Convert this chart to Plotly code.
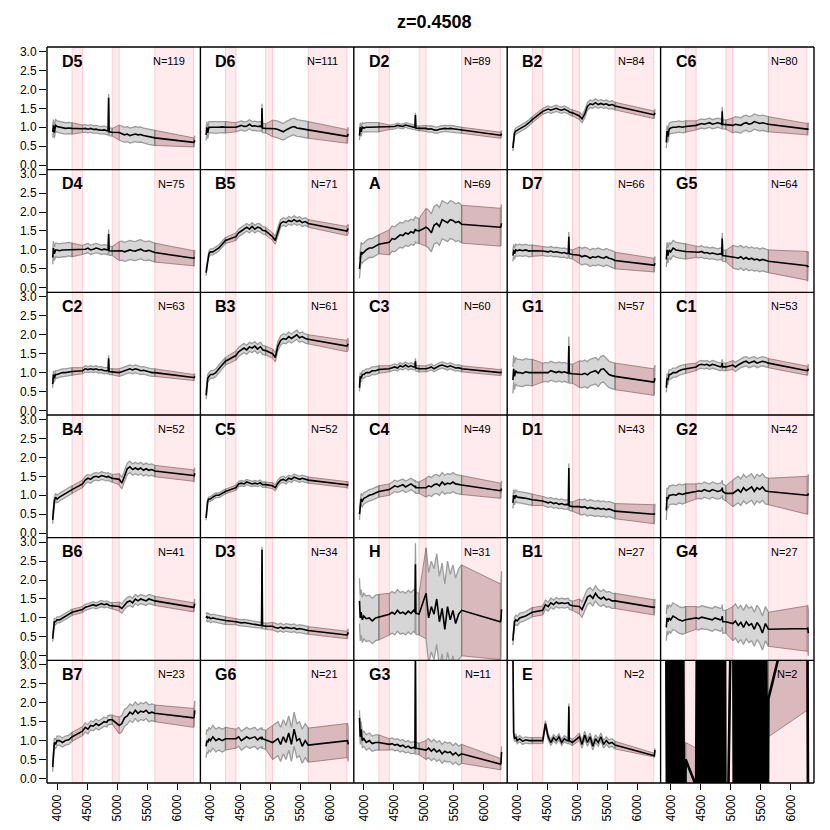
import plotly.graph_objects as go
from plotly.subplots import make_subplots

# ---------------- data ----------------
WL_A = [3927, 3940, 3955, 3975, 4000, 4040, 4090, 4140, 4195, 4250]
WL_B = [4425, 4470, 4515, 4560, 4605, 4650, 4695, 4740, 4785, 4830, 4852, 4860, 4868, 4920]
WL_C = [5037, 5080, 5125, 5170, 5215, 5260, 5305, 5350, 5395, 5440, 5485, 5530, 5580, 5630]
WL_D = [6275, 6286, 6296]

WL30_A = [3927, 3950, 3973, 3996, 4019, 4042, 4065, 4088, 4111, 4134, 4157, 4180, 4203, 4226, 4250]
WL30_B = [4425, 4450, 4475, 4500, 4525, 4550, 4575, 4600, 4625, 4650, 4675, 4700, 4725, 4750,
          4775, 4800, 4825, 4850, 4875, 4900, 4920]
WL30_C = [5037, 5062, 5087, 5112, 5137, 5162, 5187, 5212, 5237, 5262, 5287, 5312, 5337, 5362,
          5387, 5412, 5437, 5462, 5487, 5512, 5537, 5562, 5587, 5612, 5630]

mask_bands = [(4250, 4425), (4920, 5037), (5630, 6275)]

labels = ["D5", "D6", "D2", "B2", "C6", "D4", "B5", "A", "D7", "G5",
          "C2", "B3", "C3", "G1", "C1", "B4", "C5", "C4", "D1", "G2",
          "B6", "D3", "H", "B1", "G4", "B7", "G6", "G3", "E", ""]
counts = [119, 111, 89, 84, 80, 75, 71, 69, 66, 64, 63, 61, 60, 57, 53, 52, 52, 49, 43, 42,
          41, 34, 31, 27, 27, 23, 21, 11, 2, 2]

m_D5 = [0.88, 1.05, 0.86, 1.05, 1.02, 1.0, 0.98, 0.97, 0.98, 0.97,
        0.96, 0.97, 0.95, 0.97, 0.94, 0.95, 0.93, 0.92, 0.93, 0.9, 0.9, 1.78, 0.88, 0.87,
        0.86, 0.83, 0.8, 0.82, 0.78, 0.8, 0.82, 0.8, 0.81, 0.78, 0.77, 0.75, 0.73, 0.72,
        0.6, 0.61, 0.66]
s_D5 = [0.15, 0.1, 0.2, 0.12]
m_D6 = [0.8, 1.0, 0.85, 1.0, 1.0, 1.0, 0.99, 1.0, 1.01, 1.0,
        1.0, 1.02, 1.05, 1.02, 1.03, 1.08, 1.03, 1.04, 1.02, 1.03, 1.0, 1.5, 0.98, 0.97,
        0.97, 0.96, 0.94, 0.91, 0.88, 0.93, 0.97, 1.0, 1.02, 0.98, 0.97, 0.96, 0.95, 0.93,
        0.76, 0.77, 0.82]
s_D6 = [0.15, 0.12, 0.22, 0.18]
m_D2 = [0.78, 1.0, 0.88, 1.0, 0.98, 1.0, 1.0, 1.0, 1.0, 1.0,
        1.0, 1.0, 1.02, 1.05, 1.03, 1.02, 1.06, 1.03, 1.02, 1.0, 1.0, 1.32, 0.98, 0.97,
        0.97, 0.95, 0.96, 0.93, 0.92, 0.95, 0.96, 0.97, 0.96, 0.97, 0.96, 0.95, 0.93, 0.92,
        0.79, 0.8, 0.83]
s_D2 = [0.12, 0.06, 0.08, 0.08]
m_B2 = [0.45, 0.6, 0.85, 0.9, 0.92, 0.95, 1.0, 1.05, 1.12, 1.2,
        1.42, 1.45, 1.48, 1.45, 1.47, 1.5, 1.47, 1.45, 1.48, 1.45, 1.43, 1.42, 1.4, 1.38,
        1.3, 1.22, 1.35, 1.55, 1.62, 1.6, 1.65, 1.6, 1.63, 1.6, 1.62, 1.58, 1.6, 1.56,
        1.33, 1.34, 1.38]
s_B2 = [0.08, 0.08, 0.1, 0.1]
m_C6 = [0.6, 0.9, 0.75, 0.95, 0.98, 1.0, 1.0, 1.02, 1.0, 1.02,
        1.05, 1.08, 1.1, 1.08, 1.1, 1.12, 1.08, 1.1, 1.12, 1.1, 1.08, 1.42, 1.08, 1.07,
        1.05, 1.08, 1.07, 1.05, 1.1, 1.12, 1.08, 1.1, 1.15, 1.12, 1.1, 1.12, 1.1, 1.08,
        0.95, 0.95, 0.97]
s_C6 = [0.15, 0.12, 0.2, 0.15]
m_D4 = [0.8, 1.05, 0.9, 1.0, 1.0, 0.98, 1.0, 1.0, 1.02, 1.0,
        1.0, 1.02, 1.05, 1.0, 1.02, 1.05, 1.03, 1.0, 1.02, 1.0, 1.0, 1.42, 0.98, 0.97,
        0.97, 0.98, 0.95, 0.97, 1.0, 0.98, 0.97, 1.0, 1.02, 0.98, 0.97, 0.99, 0.96, 0.93,
        0.78, 0.78, 0.8]
s_D4 = [0.18, 0.12, 0.25, 0.2]
m_B5 = [0.4, 0.55, 0.8, 0.9, 0.95, 0.95, 1.0, 1.05, 1.15, 1.25,
        1.35, 1.45, 1.5, 1.55, 1.6, 1.55, 1.62, 1.55, 1.6, 1.58, 1.55, 1.55, 1.52, 1.5,
        1.35, 1.25, 1.5, 1.7, 1.75, 1.72, 1.78, 1.75, 1.8, 1.75, 1.78, 1.72, 1.75, 1.7,
        1.5, 1.52, 1.56]
s_B5 = [0.08, 0.1, 0.1, 0.12]
m_A = [0.5, 0.75, 0.95, 0.9, 0.95, 1.0, 1.05, 1.05, 1.1, 1.15,
       1.2, 1.3, 1.28, 1.35, 1.4, 1.38, 1.45, 1.42, 1.48, 1.45, 1.5, 1.55, 1.52, 1.5,
       1.6, 1.55, 1.45, 1.65, 1.7, 1.62, 1.8, 1.75, 1.72, 1.8, 1.78, 1.72, 1.75, 1.68,
       1.6, 1.62, 1.7]
s_A = [0.25, 0.33, 0.5, 0.5]
m_D7 = [0.85, 1.0, 0.9, 1.0, 0.98, 1.0, 0.98, 1.0, 0.97, 0.98,
        0.97, 0.96, 0.95, 0.97, 0.94, 0.95, 0.93, 0.92, 0.93, 0.9, 0.92, 1.35, 0.9, 0.88,
        0.86, 0.82, 0.85, 0.83, 0.78, 0.82, 0.8, 0.83, 0.8, 0.78, 0.82, 0.78, 0.76, 0.72,
        0.6, 0.6, 0.65]
s_D7 = [0.15, 0.12, 0.22, 0.18]
m_G5 = [0.75, 1.0, 0.85, 1.0, 0.95, 1.05, 1.0, 0.98, 0.97, 0.96,
        0.95, 0.94, 0.96, 0.92, 0.93, 0.9, 0.92, 0.9, 0.88, 0.9, 0.88, 1.3, 0.85, 0.84,
        0.82, 0.8, 0.78, 0.82, 0.76, 0.8, 0.75, 0.78, 0.74, 0.76, 0.72, 0.75, 0.73, 0.7,
        0.58, 0.55, 0.58]
s_G5 = [0.2, 0.15, 0.3, 0.38]
m_C2 = [0.7, 0.95, 0.85, 0.95, 0.95, 0.98, 1.0, 1.0, 1.02, 1.03,
        1.05, 1.1, 1.08, 1.1, 1.08, 1.1, 1.07, 1.08, 1.05, 1.06, 1.05, 1.38, 1.03, 1.02,
        1.0, 1.02, 1.05, 1.08, 1.1, 1.07, 1.1, 1.08, 1.05, 1.06, 1.03, 1.02, 1.0, 1.0,
        0.87, 0.87, 0.9]
s_C2 = [0.1, 0.08, 0.1, 0.08]
m_B3 = [0.4, 0.55, 0.85, 0.9, 0.95, 0.95, 1.0, 1.1, 1.2, 1.3,
        1.45, 1.55, 1.6, 1.65, 1.6, 1.68, 1.65, 1.7, 1.62, 1.68, 1.65, 1.62, 1.6, 1.58,
        1.5, 1.4, 1.7, 1.85, 1.9, 1.88, 1.95, 1.9, 1.95, 2.0, 1.92, 1.95, 1.9, 1.88,
        1.7, 1.72, 1.76]
s_B3 = [0.1, 0.12, 0.12, 0.15]
m_C3 = [0.6, 0.9, 0.85, 0.95, 0.95, 1.0, 1.0, 1.05, 1.05, 1.08,
        1.1, 1.12, 1.15, 1.12, 1.18, 1.15, 1.2, 1.15, 1.18, 1.15, 1.15, 1.3, 1.12, 1.1,
        1.1, 1.12, 1.15, 1.1, 1.15, 1.18, 1.2, 1.17, 1.15, 1.18, 1.15, 1.12, 1.13, 1.1,
        1.0, 1.0, 1.02]
s_C3 = [0.1, 0.08, 0.08, 0.08]
m_G1 = [0.8, 1.1, 0.9, 1.05, 1.0, 1.0, 0.98, 1.02, 1.0, 1.0,
        1.0, 1.02, 1.0, 1.05, 1.02, 1.0, 1.03, 1.0, 1.02, 1.0, 0.98, 1.7, 0.98, 0.97,
        0.96, 0.95, 0.98, 0.94, 1.0, 1.02, 1.05, 0.98, 1.08, 1.1, 1.02, 0.95, 0.92, 0.9,
        0.75, 0.78, 0.85]
s_G1 = [0.35, 0.25, 0.35, 0.35]
m_C1 = [0.6, 0.85, 0.8, 0.95, 0.95, 1.0, 1.0, 1.05, 1.08, 1.1,
        1.15, 1.2, 1.22, 1.2, 1.22, 1.18, 1.22, 1.2, 1.18, 1.15, 1.18, 1.25, 1.15, 1.15,
        1.2, 1.15, 1.2, 1.25, 1.28, 1.3, 1.25, 1.28, 1.3, 1.25, 1.28, 1.3, 1.28, 1.25,
        1.05, 1.06, 1.1]
s_C1 = [0.12, 0.1, 0.12, 0.12]
m_B4 = [0.35, 0.6, 0.85, 0.95, 0.9, 0.95, 1.0, 1.05, 1.1, 1.15,
        1.3, 1.4, 1.45, 1.42, 1.48, 1.5, 1.48, 1.52, 1.5, 1.48, 1.5, 1.5, 1.48, 1.45,
        1.42, 1.32, 1.5, 1.7, 1.75, 1.68, 1.72, 1.68, 1.72, 1.66, 1.7, 1.66, 1.68, 1.64,
        1.52, 1.5, 1.58]
s_B4 = [0.1, 0.1, 0.15, 0.15]
m_C5 = [0.4, 0.6, 0.85, 0.9, 0.9, 0.95, 1.0, 1.0, 1.05, 1.1,
        1.2, 1.3, 1.32, 1.3, 1.35, 1.32, 1.3, 1.32, 1.3, 1.33, 1.3, 1.3, 1.28, 1.28,
        1.25, 1.2, 1.32, 1.4, 1.42, 1.38, 1.45, 1.42, 1.48, 1.45, 1.42, 1.45, 1.42, 1.4,
        1.28, 1.27, 1.29]
s_C5 = [0.06, 0.07, 0.08, 0.08]
m_C4 = [0.5, 0.8, 0.9, 0.85, 0.92, 0.95, 1.0, 1.02, 1.05, 1.1,
        1.15, 1.2, 1.25, 1.22, 1.25, 1.28, 1.22, 1.25, 1.3, 1.25, 1.22, 1.25, 1.2, 1.2,
        1.2, 1.25, 1.22, 1.28, 1.3, 1.25, 1.35, 1.28, 1.32, 1.3, 1.35, 1.3, 1.28, 1.27,
        1.12, 1.13, 1.18]
s_C4 = [0.15, 0.15, 0.25, 0.2]
m_D1 = [0.8, 1.0, 0.9, 1.0, 0.95, 0.95, 0.93, 0.92, 0.9, 0.88,
        0.85, 0.82, 0.8, 0.82, 0.78, 0.8, 0.76, 0.78, 0.75, 0.76, 0.74, 1.72, 0.72, 0.7,
        0.7, 0.68, 0.7, 0.65, 0.68, 0.66, 0.64, 0.66, 0.63, 0.65, 0.62, 0.64, 0.6, 0.58,
        0.5, 0.5, 0.52]
s_D1 = [0.15, 0.12, 0.2, 0.25]
m_G2 = [0.6, 0.95, 0.9, 1.0, 1.0, 1.02, 1.0, 1.05, 1.02, 1.05,
        1.1, 1.12, 1.1, 1.15, 1.12, 1.1, 1.15, 1.12, 1.1, 1.12, 1.15, 1.2, 1.1, 1.05,
        1.05, 1.1, 1.15, 1.08, 1.2, 1.12, 1.18, 1.22, 1.1, 1.2, 1.15, 1.22, 1.12, 1.1,
        1.0, 1.0, 1.05]
s_G2 = [0.25, 0.2, 0.35, 0.5]
m_B6 = [0.45, 0.7, 0.9, 0.9, 0.95, 0.95, 1.0, 1.05, 1.1, 1.15,
        1.22, 1.28, 1.3, 1.33, 1.35, 1.32, 1.35, 1.38, 1.35, 1.37, 1.35, 1.35, 1.33, 1.32,
        1.3, 1.25, 1.35, 1.42, 1.45, 1.4, 1.5, 1.45, 1.5, 1.48, 1.45, 1.5, 1.48, 1.45,
        1.28, 1.3, 1.38]
s_B6 = [0.08, 0.08, 0.12, 0.12]
m_D3 = [1.0, 1.05, 1.0, 1.02, 0.98, 1.0, 0.98, 0.96, 0.95, 0.93,
        0.9, 0.88, 0.87, 0.88, 0.86, 0.85, 0.84, 0.83, 0.82, 0.82, 0.8, 2.8, 0.8, 0.78,
        0.78, 0.75, 0.73, 0.76, 0.72, 0.75, 0.73, 0.72, 0.74, 0.7, 0.72, 0.7, 0.68, 0.67,
        0.55, 0.56, 0.62]
s_D3 = [0.1, 0.08, 0.1, 0.1]
m_H = [1.45, 1.0, 1.15, 0.95, 1.05, 0.98, 1.0, 0.92, 1.0, 1.02,
       1.1, 1.15, 1.1, 1.2, 1.12, 1.15, 1.1, 1.18, 1.12, 1.2, 1.15, 2.42, 1.12, 1.1,
       1.65, 1.0, 1.3, 1.1, 1.5, 0.9, 1.25, 0.7, 1.3, 0.95, 1.2, 0.85, 1.1, 1.2,
       0.9, 0.95, 1.23]
s_H = [0.6, 0.55, 1.2, 1.0]
m_B1 = [0.4, 0.7, 0.9, 0.95, 0.92, 1.0, 1.02, 1.05, 1.1, 1.15,
        1.2, 1.35, 1.3, 1.4, 1.35, 1.42, 1.38, 1.4, 1.38, 1.4, 1.4, 1.38, 1.35, 1.32,
        1.3, 1.22, 1.4, 1.55, 1.6, 1.52, 1.65, 1.55, 1.5, 1.55, 1.48, 1.5, 1.45, 1.45,
        1.28, 1.28, 1.3]
s_B1 = [0.12, 0.12, 0.2, 0.2]
m_G4 = [0.75, 1.0, 0.9, 1.0, 0.95, 1.05, 1.0, 0.95, 0.92, 0.95,
        1.0, 0.98, 1.02, 1.0, 1.0, 0.98, 0.95, 1.0, 0.98, 0.95, 0.97, 1.05, 0.9, 0.9,
        0.85, 0.92, 0.8, 0.88, 0.75, 0.9, 0.8, 0.85, 0.7, 0.88, 0.78, 0.6, 0.85, 0.7,
        0.72, 0.73, 0.6]
s_G4 = [0.35, 0.3, 0.45, 0.6]
m_B7 = [0.3, 0.6, 0.95, 0.9, 1.0, 1.0, 0.95, 1.0, 1.02, 1.1,
        1.25, 1.35, 1.3, 1.4, 1.38, 1.45, 1.4, 1.45, 1.5, 1.48, 1.55, 1.52, 1.55, 1.55,
        1.4, 1.45, 1.6, 1.65, 1.75, 1.7, 1.8, 1.72, 1.78, 1.75, 1.8, 1.72, 1.75, 1.72,
        1.6, 1.62, 1.8]
s_B7 = [0.12, 0.12, 0.22, 0.25]
m_G6 = [0.85, 1.0, 0.95, 1.05, 1.0, 1.1, 1.0, 1.05, 1.0, 1.05,
        1.05, 1.1, 1.0, 1.05, 1.1, 1.05, 1.08, 1.1, 1.02, 1.08, 1.05, 1.1, 1.05, 1.02,
        0.95, 1.0, 1.05, 0.9, 1.1, 0.95, 1.2, 0.9, 1.3, 1.0, 1.05, 0.85, 1.0, 0.88,
        1.0, 1.0, 0.9]
s_G6 = [0.3, 0.25, 0.45, 0.45]
m_G3 = [1.6, 1.1, 1.3, 1.0, 1.05, 0.95, 1.0, 0.92, 0.95, 0.95,
        0.9, 0.92, 0.88, 0.9, 0.85, 0.88, 0.82, 0.85, 0.8, 0.82, 0.8, 3.3, 0.8, 0.78,
        0.75, 0.8, 0.72, 0.78, 0.7, 0.75, 0.65, 0.72, 0.68, 0.7, 0.62, 0.68, 0.6, 0.65,
        0.38, 0.4, 0.7]
s_G3 = [0.2, 0.15, 0.25, 0.15]
m_E = [3.5, 1.2, 1.05, 1.1, 1.0, 1.05, 0.98, 1.02, 1.0, 1.0,
       1.0, 1.45, 1.1, 0.95, 1.08, 1.0, 1.1, 0.95, 1.05, 1.0, 1.0, 1.9, 1.0, 0.95,
       1.1, 0.9, 1.15, 0.95, 1.1, 0.85, 1.05, 0.95, 1.1, 0.9, 1.0, 0.92, 0.95, 0.88,
       0.62, 0.6, 0.75]
s_E = [0.08, 0.08, 0.1, 0.05]
m_X = [3.5, -5, 8, -6, 9, -4, 7, -6, 8, -5, 9, -6, 8, -4, 0.5,
       -0.2, 8, -6, 9, -5, 8, -6, 7, -5, 9, -6, 8, -4, 9, -6, 8, -5, 9, -6, 8, -5,
       8, -6, 9, -5, 8, -6, 7, -5, 9, -6, 8, -4, 9, -6, 8, -5, 9, -6, 8, -5, 9, -6, 8, -5, 2.1,
       6.3, 1.4, -3]
s_X = [0.45, 1.0, 1.0, 4.5]

medians = [m_D5, m_D6, m_D2, m_B2, m_C6, m_D4, m_B5, m_A, m_D7, m_G5,
           m_C2, m_B3, m_C3, m_G1, m_C1, m_B4, m_C5, m_C4, m_D1, m_G2,
           m_B6, m_D3, m_H, m_B1, m_G4, m_B7, m_G6, m_G3, m_E, m_X]
spreads = [s_D5, s_D6, s_D2, s_B2, s_C6, s_D4, s_B5, s_A, s_D7, s_G5,
           s_C2, s_B3, s_C3, s_G1, s_C1, s_B4, s_C5, s_C4, s_D1, s_G2,
           s_B6, s_D3, s_H, s_B1, s_G4, s_B7, s_G6, s_G3, s_E, s_X]

# ---------------- style ----------------
GREY_FILL = "#D6D6D6"
GREY_EDGE = "#9C9C9C"
BROWN_FILL = "rgba(150,100,100,0.36)"
BROWN_EDGE = "rgba(140,105,105,0.75)"
PINK_FILL = "rgba(255,185,195,0.30)"
PINK_EDGE = "rgba(255,150,165,0.40)"
FONT = "Liberation Sans, Arial, Helvetica, sans-serif"

NR, NC = 6, 5
fig = make_subplots(rows=NR, cols=NC, horizontal_spacing=0, vertical_spacing=0)


def add_panel(r, c, xs, ys, seglens, spr, lw):
    segs = []
    i = 0
    for n in seglens:
        segs.append((xs[i:i + n], ys[i:i + n]))
        i += n
    for k, (sx, sy) in enumerate(segs):
        s = spr[k]
        up = [v + s for v in sy]
        lo = [v - s for v in sy]
        fig.add_trace(go.Scatter(x=sx + sx[::-1], y=up + lo[::-1], mode="lines", fill="toself",
                                 fillcolor=GREY_FILL, line=dict(color=GREY_EDGE, width=1.3),
                                 hoverinfo="skip", showlegend=False), row=r, col=c)
    for k in range(len(segs) - 1):
        x0, x1 = segs[k][0][-1], segs[k + 1][0][0]
        y0, y1 = segs[k][1][-1], segs[k + 1][1][0]
        s0, s1 = spr[k], spr[k + 1]
        fig.add_trace(go.Scatter(x=[x0, x1, x1, x0, x0],
                                 y=[y0 + s0, y1 + s1, y1 - s1, y0 - s0, y0 + s0],
                                 mode="lines", fill="toself", fillcolor=BROWN_FILL,
                                 line=dict(color=BROWN_EDGE, width=1),
                                 hoverinfo="skip", showlegend=False), row=r, col=c)
    fig.add_trace(go.Scatter(x=xs, y=ys, mode="lines", line=dict(color="black", width=lw),
                             hoverinfo="skip", showlegend=False), row=r, col=c)


WL = WL_A + WL_B + WL_C + WL_D
WL30 = WL30_A + WL30_B + WL30_C + WL_D
for idx in range(NR * NC):
    r, c = idx // NC + 1, idx % NC + 1
    if idx == NR * NC - 1:
        add_panel(r, c, WL30, medians[idx],
                  [len(WL30_A), len(WL30_B), len(WL30_C), len(WL_D)], spreads[idx], 2.6)
    else:
        add_panel(r, c, WL, medians[idx],
                  [len(WL_A), len(WL_B), len(WL_C), len(WL_D)], spreads[idx], 1.6)

for (b0, b1) in mask_bands:
    fig.add_vrect(x0=b0, x1=b1, row="all", col="all", layer="below",
                  fillcolor=PINK_FILL, line=dict(color=PINK_EDGE, width=1))

fig.update_xaxes(range=[3832.5, 6390], showgrid=False, zeroline=False, showline=False,
                 ticks="", showticklabels=False)
fig.update_yaxes(range=[-0.12, 3.12], showgrid=False, zeroline=False, showline=False,
                 ticks="", showticklabels=False)
for c in range(1, NC + 1):
    fig.update_xaxes(row=NR, col=c, ticks="outside", ticklen=6, tickwidth=1, tickcolor="black",
                     tickvals=[4000, 4500, 5000, 5500, 6000], tickangle=-90,
                     showticklabels=True, tickfont=dict(family=FONT, size=12, color="black"))
for r in range(1, NR + 1):
    fig.update_yaxes(row=r, col=1, ticks="outside", ticklen=7, tickwidth=1, tickcolor="black",
                     tickvals=[0, 0.5, 1, 1.5, 2, 2.5, 3],
                     ticktext=["0.0", "0.5", "1.0", "1.5", "2.0", "2.5", "3.0"],
                     showticklabels=True, tickfont=dict(family=FONT, size=12, color="black"))

# panel borders (drawn once, in paper coordinates)
for c in range(NC + 1):
    fig.add_shape(type="line", xref="paper", yref="paper", x0=c / NC, x1=c / NC, y0=0, y1=1,
                  line=dict(color="black", width=1.4), layer="above")
for r in range(NR + 1):
    fig.add_shape(type="line", xref="paper", yref="paper", x0=0, x1=1, y0=r / NR, y1=r / NR,
                  line=dict(color="black", width=1.4), layer="above")

annotations = []
for idx in range(NR * NC):
    k = idx + 1
    xr = "x domain" if k == 1 else f"x{k} domain"
    yr = "y domain" if k == 1 else f"y{k} domain"
    if labels[idx]:
        annotations.append(dict(text=f"<b>{labels[idx]}</b>", xref=xr, yref=yr, x=0.085, y=0.885,
                                xanchor="left", yanchor="middle", showarrow=False,
                                font=dict(family=FONT, size=16, color="black")))
    annotations.append(dict(text=f"N={counts[idx]}", xref=xr, yref=yr, x=0.91, y=0.885,
                            xanchor="right", yanchor="middle", showarrow=False,
                            font=dict(family=FONT, size=11, color="black")))
annotations.append(dict(text="<b>z=0.4508</b>", xref="paper", yref="paper", x=0.505, y=1.034,
                        xanchor="center", yanchor="middle", showarrow=False,
                        font=dict(family=FONT, size=18, color="black")))

# the page body adds an 8px offset, so the margins compensate for it
fig.update_layout(width=830, height=830, autosize=False,
                  margin=dict(l=39, r=24, t=39, b=55, pad=0, autoexpand=False),
                  paper_bgcolor="white", plot_bgcolor="white",
                  annotations=annotations, showlegend=False)

fig.write_html("out.html")
